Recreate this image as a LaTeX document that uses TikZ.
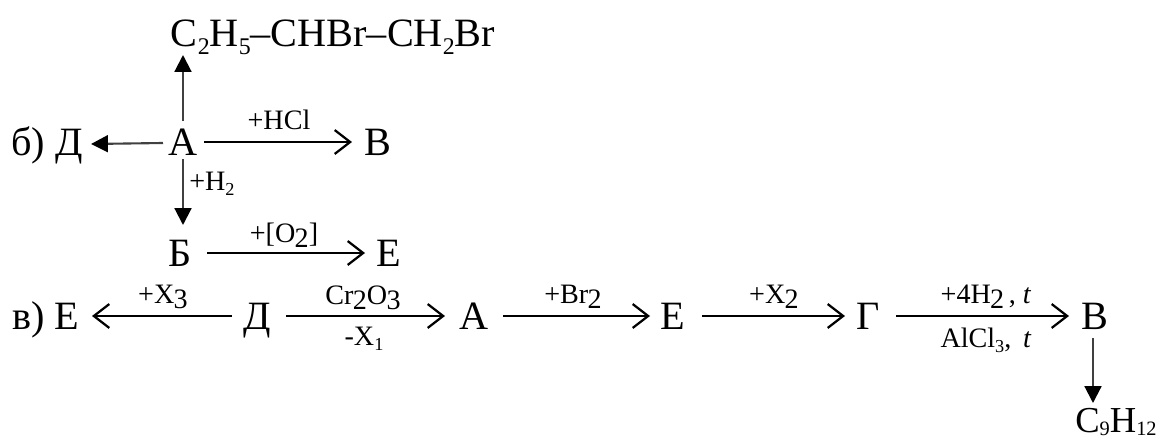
\documentclass[tikz,border=0pt]{standalone}
\usepackage{fontspec}
\setmainfont{Liberation Serif}
\usepackage{tikz}
\usetikzlibrary{arrows.meta,positioning,calc}
\tikzset{
  chem/.style={font=\fontsize{28.6}{32}\selectfont,inner sep=0pt,anchor=base},
  reag/.style={font=\fontsize{20}{24}\selectfont,inner sep=0pt,anchor=base},
  rxn/.style={-{Straight Barb[length=11pt,width=17pt,line width=1.6pt]},line width=1.6pt,black},
  solidrxn/.style={line width=1.5pt,black!75,arrows={-{Triangle[length=12pt,width=12pt,black]}}},
}
\newcommand{\sub}[1]{\raisebox{-0.22em}{\fontsize{17}{17}\selectfont #1}}
\newcommand{\subr}[1]{\raisebox{-0.2em}{\fontsize{13}{13}\selectfont #1}}
\newcommand{\subl}[1]{\raisebox{-0.2em}{\kern-0.5pt\fontsize{20}{20}\selectfont #1}}
\newcommand{\subp}[1]{\raisebox{-0.1em}{\fontsize{14.5}{15}\selectfont #1}}
\begin{document}
\begin{tikzpicture}[x=0.025cm,y=-0.025cm]
  \useasboundingbox (0,0) rectangle (1173,441);
  % upper scheme
  \node[chem] (dib) at (333,46) {C\sub{2}H\sub{5}--CHBr--CH\sub{2}Br};
  \node[chem] (bA) at (183,155) {А};
  \node[chem] (bLab) at (11,155) [anchor=base west] {б) Д};
  \node[chem] (bB) at (378,155) {В};
  \node[chem] (bBe) at (180,266) {Б};
  \node[chem] (bE) at (389,266) {Е};
  \coordinate (bD) at (91,144);
  \draw[solidrxn] (183,121) -- (183,55);
  \draw[solidrxn] (163,143) -- (bD);
  \draw[rxn] (204,142) -- (352,142);
  \draw[solidrxn] (183,159) -- (183,225);
  \draw[rxn] (207,253) -- (365,253);
  \node[reag] (hcl) at (279,129) {+HCl};
  \node[reag] (hh) at (189,190) [anchor=base west] {+H\subr{2}};
  \node[reag] (oo) at (284,242) {+[O\subl{2}]};
  % lower scheme
  \node[chem] (vLab) at (12,329) [anchor=base west] {в) Е};
  \node[chem] (vD) at (257,329) {Д};
  \node[chem] (vA) at (474,329) {А};
  \node[chem] (vE) at (673,329) {Е};
  \node[chem] (vG) at (868,329) {Г};
  \node[chem] (vB) at (1095,329) {В};
  \node[chem] (prod) at (1116,432) {\fontsize{26}{30}\selectfont C\subp{9}H\subp{12}};
  \coordinate (vEr) at (92,316);
  \draw[rxn] (232,316) -- (vEr);
  \draw[rxn] (286,316) -- (445,316);
  \draw[rxn] (503,316) -- (650,316);
  \draw[rxn] (702,316) -- (845,316);
  \draw[rxn] (896,316) -- (1069,316);
  \draw[solidrxn] (1093,338) -- (1093,403);
  \node[reag] (x3) at (163,303) {+X\subl{3}};
  \node[reag] (cr) at (363,304) {Cr\subl{2}O\subl{3}};
  \node[reag] (x1) at (364,345) {-X\subr{1}};
  \node[reag] (br) at (573,303) {+Br\subl{2}};
  \node[reag] (x2) at (774,303) {+X\subl{2}};
  \node[reag] (hfour) at (986,303) {+4H\subl{2}\,, \emph{t}};
  \node[reag] (alcl) at (986,347) {AlCl\subr{3}, \,\emph{t}};
\end{tikzpicture}
\end{document}
